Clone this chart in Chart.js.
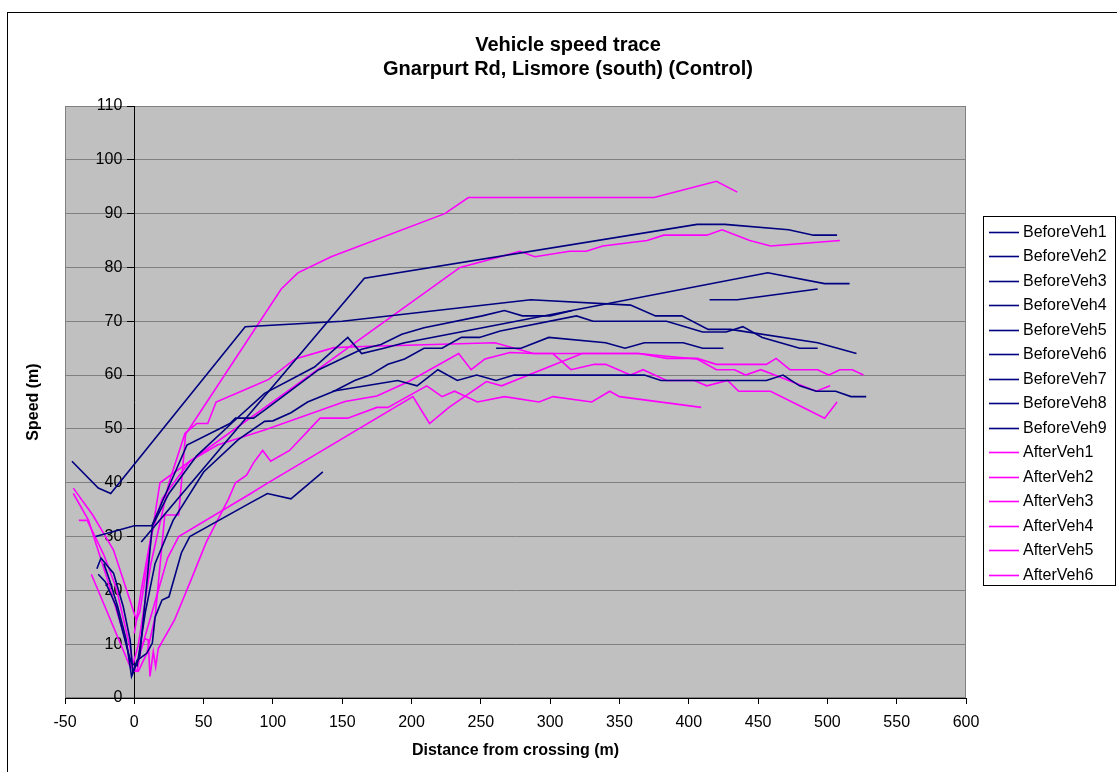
<!DOCTYPE html>
<html>
<head>
<meta charset="utf-8">
<title>Vehicle speed trace</title>
<script src="https://cdn.jsdelivr.net/npm/chart.js@4.4.0/dist/chart.umd.min.js"></script>
<style>
  html, body { margin: 0; padding: 0; background: #fff; }
  #wrap { position: relative; width: 1117px; height: 772px; }
</style>
</head>
<body>
<div id="wrap"><canvas id="speed-chart"></canvas></div>
<script>
// [distance from crossing (m), speed] for each recorded vehicle
const beforeVeh1 = [[-45,44],[-26,39],[-17,38],[80,69],[150,70],[286,74],[358,73],[376,71],[395,71],[414,68.5],[430,68.5],[493,66],[521,64]];
const beforeVeh2 = [[-28,30],[0,32],[9,32],[12.6,32],[38,47],[69,51],[73,52],[86,52],[94,53.5],[133,61],[164,64.8],[178,65.7],[193,67.6],[209,68.8],[251,71],[267,72],[280,71],[300,71],[316,72]];
const beforeVeh3 = [[-27,24],[-24,26],[-20,24.7],[-15,23.2],[-8,17],[-3,10.8],[-1,4.6],[4,8],[13,32],[25,38],[45,45],[70,51],[94,56.6],[130,61.5],[154,67],[164,64],[180,65],[195,66],[457,79],[498,77],[516,77]];
const beforeVeh4 = [[-26,23],[-21,21.6],[-13,17],[-5.5,9.5],[-2,6.4],[2,6],[8,16],[15,25],[28,33],[50,42],[75,48],[94,51.4],[100,51.5],[113,53],[125,55],[144,57],[159,59],[170,60],[183,62],[195,63],[209,65],[222,65],[236,67],[249,67],[264,68.2],[319,71],[331,70],[384,70],[410,68],[427,68],[439,69],[453,67],[480,65],[493,65]];
const beforeVeh5 = [[5,29],[166,78],[406,88],[426,88],[472,87],[490,86],[507,86]];
const beforeVeh6 = [[-22,25],[-18,22],[-12,17],[-6,11],[-2,4],[2,7],[9,8.3],[13,10.2],[15,15],[20,18.2],[25,18.8],[34,27],[40,30],[84,36.3],[96,38],[113,37],[136,42]];
const beforeVeh7 = [[143,57],[190,59],[204,58],[219,61],[233,59],[247,60],[261,59],[274,60],[368,60],[380,59],[456,59],[468,60],[480,58],[492,57],[506,57],[517,56],[528,56]];
const beforeVeh8 = [[261,65],[279,65],[299,67],[340,66],[354,65],[368,66],[396,66],[410,65],[425,65]];
const beforeVeh9 = [[415,74],[435,74],[493,76]];

const afterVeh1 = [[-44,38],[-33,33],[-20,22.5],[-5.5,10],[-3,6.4],[0,5],[3,5],[9,8.3],[15,15],[22,34],[32,34],[37,49],[106,76],[118,79],[142,82],[224,90],[241,93],[375,93],[420,96],[435,94]];
const afterVeh2 = [[-44,39],[-30,34],[-15,27.5],[1.5,14.5],[4,16],[18.5,40],[235,80],[264,82],[278,83],[289,82],[314,83],[326,83],[338,84],[370,85],[382,86],[413,86],[424,87],[444,85],[459,84],[509,85]];
const afterVeh3 = [[-40,33],[-34,33],[-22,26.6],[-13,20.4],[-3,9.3],[-1,6.2],[3,10],[12,25],[25,40],[36.6,49.2],[45,51],[53,51],[59,55],[83.5,57.7],[97,59.2],[116,63],[144,65.1],[165,65.3],[260,66],[288,64],[302,64],[315,61],[332,62],[340,62],[358,60],[367,61],[384,59],[404,59],[413,58],[428,59],[436,57],[459,57],[480,54.3],[498,52],[507,55]];
const afterVeh4 = [[0,12],[5,20],[12,30],[20,37],[40,44],[60,47],[94,49.8],[152,55.1],[175,56.1],[198,58.8],[234,64],[243,61],[253,63],[271,64.2],[288,64],[302,64],[364,64],[384,63.1],[406,63.1],[420,62],[456,62],[463,63.1],[473,61],[493,61],[501,60],[509,61],[518,61],[526,60]];
const afterVeh5 = [[5,9],[14,17],[24,26],[32,30],[84,38],[94,39.6],[201,56],[213,51],[227,54],[254,58.8],[265,58],[323,64],[364,64],[384,63.5],[406,63],[420,61],[433,61],[441,60],[452,61],[492,57],[502,58]];
const afterVeh6 = [[-31,23],[-3,5.8],[2,5],[5,9.2],[7.7,11],[10,10.8],[11.3,4],[13.7,8.6],[15.4,5.8],[17.3,9.2],[29,14.5],[41,22],[52,29],[60,33],[68,37],[73,40],[81,41.4],[86,43.7],[92.6,46],[98.4,44],[112,46],[134,52],[154,52],[175,54],[183,54],[211,58],[222,56],[231,57],[247.5,55],[267,56],[292,55],[302,56],[330,55],[343,57],[350,56],[409,54]];

const beforeSeries = [beforeVeh1, beforeVeh2, beforeVeh3, beforeVeh4, beforeVeh5, beforeVeh6, beforeVeh7, beforeVeh8, beforeVeh9];
const afterSeries = [afterVeh1, afterVeh2, afterVeh3, afterVeh4, afterVeh5, afterVeh6];

const distanceTicks = [-50, 0, 50, 100, 150, 200, 250, 300, 350, 400, 450, 500, 550, 600];
const speedTicks = [0, 10, 20, 30, 40, 50, 60, 70, 80, 90, 100, 110];

const titleLines = ['Vehicle speed trace', 'Gnarpurt Rd, Lismore (south) (Control)'];
const xTitle = 'Distance from crossing (m)';
const yTitle = 'Speed (m)';

const FONT = "'Liberation Sans', Arial, sans-serif";
const NAVY = '#000080';
const PINK = '#ff00ff';

function makeSet(label, points, color) {
    return {
        label: label,
        data: points.map(p => ({ x: p[0], y: p[1] })),
        borderColor: color,
        backgroundColor: color,
        borderWidth: 1.6,
        showLine: true,
        pointRadius: 0,
        tension: 0,
        fill: false
    };
}

const datasets = [];
beforeSeries.forEach((s, i) => datasets.push(makeSet('BeforeVeh' + (i + 1), s, NAVY)));
afterSeries.forEach((s, i) => datasets.push(makeSet('AfterVeh' + (i + 1), s, PINK)));

// grey plot area, outer frame, titles and the boxed legend
const excelFrame = {
    id: 'excelFrame',
    beforeDraw(chart) {
        const ctx = chart.ctx;
        const a = chart.chartArea;
        ctx.save();
        ctx.fillStyle = '#fff';
        ctx.fillRect(0, 0, chart.width, chart.height);
        ctx.strokeStyle = '#000';
        ctx.lineWidth = 1;
        ctx.strokeRect(7.5, 12.5, chart.width + 20, chart.height + 20);
        ctx.fillStyle = '#c0c0c0';
        ctx.fillRect(a.left, a.top, a.right - a.left, a.bottom - a.top);
        ctx.strokeStyle = '#808080';
        ctx.strokeRect(a.left + 0.5, a.top + 0.5, a.right - a.left - 1, a.bottom - a.top - 1);
        ctx.restore();
    },
    // speed labels sit left of the axis line, under the traces
    beforeDatasetsDraw(chart) {
        const ctx = chart.ctx;
        const ys = chart.scales.y;
        const x0 = chart.scales.x.getPixelForValue(0);
        ctx.save();
        ctx.fillStyle = '#000';
        ctx.font = '16px ' + FONT;
        ctx.textAlign = 'right';
        ctx.textBaseline = 'middle';
        speedTicks.forEach(v => ctx.fillText(String(v), x0 - 12, ys.getPixelForValue(v)));
        ctx.restore();
    },
    afterDraw(chart) {
        const ctx = chart.ctx;
        const a = chart.chartArea;
        ctx.save();
        ctx.fillStyle = '#000';
        ctx.textAlign = 'center';
        ctx.textBaseline = 'middle';

        ctx.font = 'bold 20px ' + FONT;
        ctx.fillText(titleLines[0], 568, 45);
        ctx.fillText(titleLines[1], 568, 69);

        ctx.font = 'bold 16px ' + FONT;
        ctx.fillText(xTitle, (a.left + a.right) / 2, 751);
        ctx.save();
        ctx.translate(34, (a.top + a.bottom) / 2);
        ctx.rotate(-Math.PI / 2);
        ctx.fillText(yTitle, 0, 0);
        ctx.restore();

        // legend
        const box = { left: 983, top: 216, width: 132, height: 369 };
        ctx.fillStyle = '#fff';
        ctx.fillRect(box.left, box.top, box.width, box.height);
        ctx.strokeStyle = '#000';
        ctx.lineWidth = 1;
        ctx.strokeRect(box.left + 0.5, box.top + 0.5, box.width, box.height);
        ctx.font = '16px ' + FONT;
        ctx.textAlign = 'left';
        chart.data.datasets.forEach((ds, i) => {
            const y = Math.round(231.5 + 24.5 * i) + 0.5;
            ctx.strokeStyle = ds.borderColor;
            ctx.lineWidth = 1.6;
            ctx.beginPath();
            ctx.moveTo(989, y);
            ctx.lineTo(1019, y);
            ctx.stroke();
            ctx.fillStyle = '#000';
            ctx.fillText(ds.label, 1023, y);
        });
        ctx.restore();
    }
};

new Chart(document.getElementById('speed-chart'), {
    type: 'scatter',
    data: { datasets: datasets },
    plugins: [excelFrame],
    options: {
        responsive: true,
        maintainAspectRatio: false,
        animation: false,
        layout: { padding: { left: 65, top: 106, right: 151, bottom: 74 } },
        plugins: {
            legend: { display: false },
            tooltip: { enabled: false },
            title: { display: false }
        },
        scales: {
            x: {
                type: 'linear',
                min: -50,
                max: 600,
                position: { y: 0 },
                afterBuildTicks: s => { s.ticks = distanceTicks.map(v => ({ value: v })); },
                grid: { drawOnChartArea: false, drawTicks: true, tickLength: 5, tickColor: '#000' },
                border: { display: true, color: '#000', width: 1 },
                ticks: { color: '#000', font: { family: FONT, size: 16 }, padding: 10, maxRotation: 0, autoSkip: false }
            },
            y: {
                type: 'linear',
                min: 0,
                max: 110,
                position: { x: 0 },
                afterBuildTicks: s => { s.ticks = speedTicks.map(v => ({ value: v })); },
                grid: {
                    color: c => (c.tick && c.tick.value === 0) ? 'rgba(0,0,0,0)' : '#808080',
                    tickColor: '#000',
                    tickLength: 7,
                    drawTicks: true
                },
                border: { display: true, color: '#000', width: 1 },
                ticks: { display: false, autoSkip: false }
            }
        }
    }
});
</script>
</body>
</html>
